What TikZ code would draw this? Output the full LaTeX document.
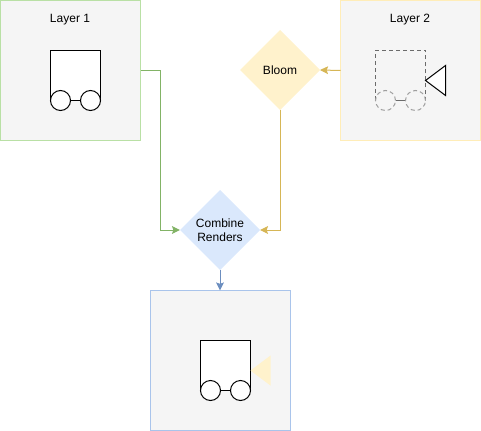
\documentclass[tikz,border=0pt]{standalone}
\usepackage{fontspec}
\setmainfont{Liberation Sans}
\usetikzlibrary{shapes.geometric,arrows.meta}
\definecolor{panelfill}{HTML}{F5F5F5}
\definecolor{lgreen}{HTML}{B9E0A5}
\definecolor{lyellow}{HTML}{FFF2CC}
\definecolor{lyellowb}{HTML}{FFEDB8}
\definecolor{lblue}{HTML}{A9C4EB}
\definecolor{dgreen}{HTML}{82B366}
\definecolor{dyellow}{HTML}{D6B656}
\definecolor{dblue}{HTML}{6C8EBF}
\definecolor{dblfill}{HTML}{DAE8FC}
\tikzset{
  panel/.style={draw=#1,fill=panelfill,line width=0.75pt,minimum width=105pt,minimum height=105pt,inner sep=0pt,outer sep=0pt},
  deco/.style={diamond,fill=#1,minimum width=60pt,minimum height=60pt,inner sep=0pt,outer sep=0pt,aspect=1,align=center,font=\fontsize{9}{10.9}\selectfont},
  lab/.style={font=\fontsize{9}{10.9}\selectfont,inner sep=0pt},
  body/.style={draw=black,fill=white,line width=0.75pt,minimum width=37.5pt,minimum height=37.5pt,inner sep=0pt,outer sep=0pt},
  wheel/.style={circle,draw=black,fill=white,line width=0.75pt,minimum size=15pt,inner sep=0pt,outer sep=0pt},
  gbody/.style={draw=black!58,line width=0.75pt,dash pattern=on 3pt off 2.25pt,minimum width=37.5pt,minimum height=37.5pt,inner sep=0pt,outer sep=0pt},
  gwheel/.style={circle,draw=black!38,fill=panelfill,line width=0.75pt,dash pattern=on 3pt off 2.25pt,minimum size=15pt,inner sep=0pt,outer sep=0pt},
  link/.style={line width=0.75pt,-{Stealth[length=6pt,width=5.8pt,inset=1pt]}},
}
\begin{document}
\begin{tikzpicture}[x=0.75pt,y=-0.75pt]
\useasboundingbox (0,0) rectangle (481,431);
% panels
\node[panel=lgreen] (p1) at (70.5,70.5) {};
\node[panel=lyellowb] (p2) at (410.5,70.5) {};
\node[panel=lblue] (p3) at (220.5,360.5) {};
\node[lab] (t1) at (70,20) {Layer 1};
\node[lab] (t2) at (410,20) {Layer 2};
% diamonds
\node[deco=lyellow] (bloom) at (280,70) {Bloom};
\node[deco=dblfill] (comb) at (220,230) {Combine\\Renders};
% robot 1
\node[body] (b1) at (75.5,75.5) {};
\node[wheel] (w1a) at (60.5,100.5) {};
\node[wheel] (w1b) at (90.5,100.5) {};
\draw[line width=0.75pt] (w1a) -- (w1b);
% robot 2
\node[gbody] (b2) at (400.5,75.5) {};
\node[gwheel] (w2a) at (385.5,100.5) {};
\node[gwheel] (w2b) at (415.5,100.5) {};
\draw[line width=0.75pt,draw=black!58,dash pattern=on 2.25pt off 1.5pt] (w2a) -- (w2b);
\draw[line width=0.75pt,fill=white,line join=miter] (425.5,80.5) -- (445.5,65.5) -- (445.5,95.5) -- cycle;
% robot 3
\node[body] (b3) at (225.5,365.5) {};
\node[wheel] (w3a) at (210.5,390.5) {};
\node[wheel] (w3b) at (240.5,390.5) {};
\draw[line width=0.75pt] (w3a) -- (w3b);
\fill[lyellow] (250.5,370.5) -- (270.5,355.5) -- (270.5,385.5) -- cycle;
% connectors
\coordinate (g) at (160.5,70.5);
\draw[link,dgreen] (p1.east) -- (g) |- (comb.west);
\draw[link,dyellow] (p2.west) -- (bloom.east);
\draw[link,dyellow] (bloom.south) |- (comb.east);
\draw[link,dblue] (comb.south) -- (comb.south |- p3.north);
\end{tikzpicture}
\end{document}
